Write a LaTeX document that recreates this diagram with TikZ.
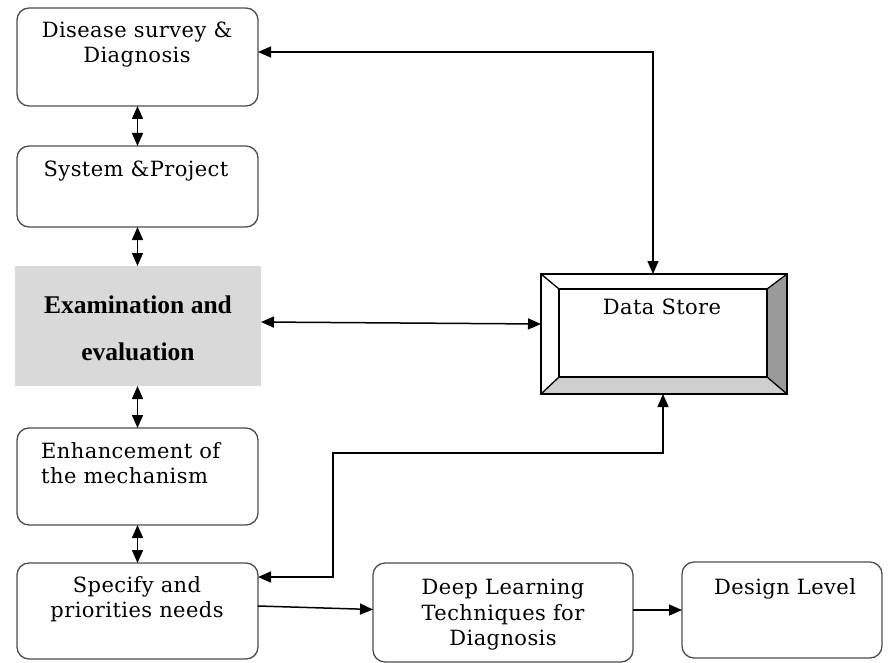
\documentclass[tikz,border=0pt]{standalone}
\usepackage{fontspec}
\newfontfamily\regf[LetterSpace=2]{DejaVu Serif}
\newfontfamily\timesf{Liberation Serif}
\usetikzlibrary{arrows.meta,calc}
\definecolor{boxc}{HTML}{4D4D4D}
\definecolor{greyfill}{HTML}{D9D9D9}
\definecolor{bevdark}{HTML}{9A9A9A}
\definecolor{bevlight}{HTML}{CFCFCF}
\begin{document}
\begin{tikzpicture}[x=1pt,y=-1pt,
  box/.style={draw=boxc, line width=1.3pt, rounded corners=12pt, minimum width=241pt, inner sep=0pt, outer sep=0pt},
  txt/.style={font=\regf\fontsize{21}{25}\selectfont, anchor=base, inner sep=0pt, text=black},
  btxt/.style={font=\timesf\bfseries\fontsize{25.5}{30}\selectfont, anchor=base, inner sep=0pt, text=black},
  conn/.style={line width=1.5pt, draw=black},
  >={Triangle[length=13pt,width=11pt]}]
\useasboundingbox (0,0) rectangle (888,663);

% left column boxes
\node[box, minimum height=98pt] (b1) at (137.5,57) {};
\node[box, minimum height=81pt] (b2) at (137.5,186.5) {};
\node[fill=greyfill, minimum width=246pt, minimum height=120pt, inner sep=0pt, outer sep=0pt] (ex) at (138,326) {};
\node[box, minimum height=97pt] (b4) at (137.5,476.5) {};
\node[box, minimum height=96pt] (b5) at (137.5,611) {};
\node[box, minimum width=260pt, minimum height=99pt] (dl) at (503,612.5) {};
\node[box, minimum width=200pt, minimum height=96pt] (dv) at (782,610) {};

% data store
\node[minimum width=246pt, minimum height=120pt, inner sep=0pt, outer sep=0pt] (ds) at (664,334) {};
\coordinate (iNW) at ($(ds.north west)+(18,15)$);
\coordinate (iNE) at ($(ds.north east)+(-20,15)$);
\coordinate (iSE) at ($(ds.south east)+(-20,-17)$);
\coordinate (iSW) at ($(ds.south west)+(18,-17)$);
\fill[white] (ds.north west) rectangle (ds.south east);
\fill[bevdark] (ds.north east) -- (ds.south east) -- (iSE) -- (iNE) -- cycle;
\fill[bevlight] (ds.south west) -- (ds.south east) -- (iSE) -- (iSW) -- cycle;
\draw[line width=1.3pt, line join=miter] (ds.north west) rectangle (ds.south east);
\draw[line width=1.3pt] (iNW) rectangle (iSE);
\draw[line width=1.3pt] (ds.north west) -- (iNW) (ds.north east) -- (iNE) (ds.south east) -- (iSE) (ds.south west) -- (iSW);

% texts
\node[txt] (t1a) at (137,38) {Disease survey \&};
\node[txt] (t1b) at (137,63) {Diagnosis};
\node[txt] (t2) at (136,177) {System \&Project};
\node[btxt] (t3a) at (138,313) {Examination and};
\node[btxt] (t3b) at (138,360) {evaluation};
\node[txt, anchor=base west] (t4a) at (41,458) {Enhancement of};
\node[txt, anchor=base west] (t4b) at (41,483) {the mechanism};
\node[txt] (t5a) at (137,592) {Specify and};
\node[txt] (t5b) at (137,617) {priorities needs};
\node[txt] (t6a) at (503,594) {Deep Learning};
\node[txt] (t6b) at (503,620) {Techniques for};
\node[txt] (t6c) at (503,645) {Diagnosis};
\node[txt] (t7) at (785,594) {Design Level};
\node[txt] (t8) at (662,314) {Data Store};

% connectors
\coordinate (turn) at (333,453);
\draw[conn,<->] (b1.south) -- (b1.south |- b2.north);
\draw[conn,<->] (b2.south) -- (b2.south |- ex.north);
\draw[conn,<->] (b4.north |- ex.south) -- (b4.north);
\draw[conn,<->] (b4.south) -- (b5.north);
\draw[conn,<->] ([yshift=5pt]b1.east) -| ([xshift=-11pt]ds.north);
\draw[conn,<->] ([yshift=4pt]ex.east) -- ([yshift=10pt]ds.west);
\draw[conn,<->] ([xshift=-1pt]ds.south) |- (turn) |- ([yshift=34pt]b5.east);
\draw[conn,->] ([yshift=5pt]b5.east) -- ([yshift=3pt]dl.west);
\draw[conn,->] (dl.east |- dv.west) -- (dv.west);
\end{tikzpicture}
\end{document}
